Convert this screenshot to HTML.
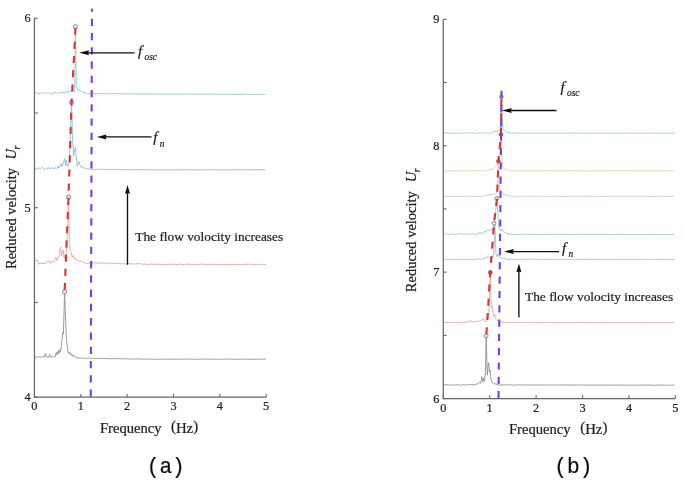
<!DOCTYPE html><html><head><meta charset="utf-8"><style>html,body{margin:0;padding:0;background:#fff;overflow:hidden;}svg{display:block;filter:blur(0.3px);}text{font-family:"Liberation Serif",serif;stroke:#222;stroke-width:0.22px;}.m{font-family:"Liberation Mono",monospace;}</style></head><body>
<svg width="685" height="482" viewBox="0 0 685 482">
<rect width="685" height="482" fill="#fff"/>
<polyline points="35.0,92.6 36.6,92.7 38.0,93.8 39.0,93.9 40.4,93.3 41.7,92.8 43.5,93.3 44.5,92.2 45.8,92.6 46.8,93.6 48.2,92.7 49.4,92.7 50.4,93.6 51.9,93.8 53.6,92.7 55.2,92.3 56.5,93.4 57.8,92.2 59.4,93.1 60.5,93.1 61.8,92.2 63.3,92.2 64.7,92.7 66.0,92.2 67.0,91.0 68.0,92.6 69.0,91.4 70.0,92.0 71.0,91.0 72.2,92.0 73.2,90.8 74.2,91.5 74.9,80.0 75.5,26.6 76.2,80.0 76.8,86.5 77.6,88.5 78.4,91.0 79.3,90.3 80.2,90.4 81.2,92.0 82.5,91.8 84.0,92.8 86.0,93.0 86.8,93.7 87.8,93.7 89.4,93.7 90.9,93.4 92.0,93.7 93.6,93.4 95.1,93.7 96.1,93.8 97.3,93.9 98.7,93.6 99.7,93.7 101.1,93.5 102.3,93.9 103.9,93.5 105.5,93.9 107.3,93.9 108.9,93.8 110.3,93.6 112.0,93.9 113.7,93.6 115.4,93.9 116.6,93.6 117.7,93.9 119.5,93.6 121.0,93.9 122.6,93.7 123.7,94.0 125.2,94.0 126.8,93.9 128.4,94.0 129.6,93.7 130.7,93.7 131.9,93.7 133.2,93.9 134.5,93.8 135.6,93.9 137.2,93.8 138.8,94.0 140.4,94.0 142.2,94.0 143.5,94.1 144.5,93.9 145.9,94.1 147.6,93.8 149.2,94.1 150.7,94.0 152.1,94.1 153.6,93.9 154.7,94.1 156.2,94.0 157.6,94.0 158.6,94.1 160.1,94.2 161.9,94.0 163.2,94.1 164.7,93.9 165.9,94.2 166.9,94.1 168.0,94.1 169.1,94.1 170.2,94.2 171.5,94.0 173.2,94.2 174.6,94.0 175.6,94.2 176.7,94.2 178.0,94.2 179.5,94.0 180.8,94.0 181.8,94.0 183.4,94.0 184.7,94.1 186.2,94.1 187.5,94.1 189.1,94.0 190.4,94.0 191.7,94.1 192.8,94.0 194.6,94.2 196.1,94.0 197.5,94.2 199.1,94.1 200.5,94.3 202.3,94.1 203.5,94.2 204.8,94.0 206.3,94.2 207.5,94.2 208.9,94.2 210.6,94.1 211.7,94.3 213.2,94.1 214.7,94.1 216.4,94.2 217.8,94.3 219.6,94.1 220.9,94.4 222.4,94.3 223.4,94.4 224.5,94.2 225.8,94.4 227.4,94.1 228.6,94.4 230.3,94.2 231.8,94.4 233.6,94.3 234.9,94.4 236.5,94.3 238.2,94.4 240.0,94.3 241.6,94.4 243.2,94.3 244.9,94.2 246.2,94.2 247.6,94.2 248.7,94.4 250.3,94.5 251.7,94.3 252.9,94.4 254.0,94.3 255.6,94.4 257.1,94.2 258.2,94.3 259.6,94.3 261.1,94.5 262.5,94.3 264.2,94.5 265.6,94.3" fill="none" stroke="#92c8bc" stroke-width="0.9" stroke-linejoin="round"/>
<polyline points="35.0,169.1 36.0,169.1 37.6,168.7 39.1,167.6 40.2,168.9 41.8,167.2 43.3,168.8 44.3,169.0 45.5,169.5 46.9,167.8 47.9,168.7 49.3,167.5 50.5,169.2 52.1,167.5 53.7,169.2 56.0,167.5 57.0,168.5 58.0,166.0 59.0,167.8 60.0,165.5 61.0,163.5 62.0,166.5 63.0,164.5 64.0,161.0 64.8,158.8 65.6,165.5 66.4,160.0 67.2,166.0 68.2,166.5 69.2,162.0 70.2,140.0 71.5,102.5 72.6,140.0 73.6,156.3 74.6,150.0 75.5,147.5 76.4,158.0 77.3,166.0 78.2,163.0 79.0,161.5 80.0,165.0 81.2,167.5 82.4,166.6 84.0,168.0 86.0,168.4 86.8,168.9 88.1,168.9 89.1,168.9 90.3,169.5 91.7,169.4 93.2,169.4 94.9,169.5 96.5,169.5 97.9,169.3 99.7,169.1 101.4,169.6 102.7,169.2 104.4,169.4 105.5,169.6 106.9,169.5 108.3,169.3 109.8,169.6 111.3,169.3 113.1,169.5 114.8,169.3 116.3,169.6 118.0,169.4 119.0,169.7 120.1,169.5 121.2,169.7 122.9,169.7 123.9,169.7 125.6,169.5 127.4,169.7 128.9,169.7 130.2,169.7 131.3,169.6 133.0,169.8 134.4,169.6 135.9,169.9 137.7,169.7 139.2,169.7 141.0,169.7 142.0,169.9 143.0,169.7 144.1,169.9 145.6,169.7 147.2,169.8 148.8,169.8 150.1,170.0 151.4,169.8 152.9,170.0 154.5,170.0 156.1,170.0 157.8,169.9 159.1,169.9 160.4,169.8 161.7,169.9 163.0,169.7 164.3,169.8 165.8,170.0 167.4,169.8 169.1,169.8 170.4,169.8 172.0,169.8 173.4,170.0 175.1,169.9 176.9,170.0 178.2,169.7 179.4,170.0 180.9,169.8 182.2,169.8 183.7,169.7 184.7,170.0 186.4,169.7 187.9,169.7 189.0,169.8 190.5,170.0 191.9,169.8 193.6,170.0 194.9,170.0 196.6,169.7 198.3,169.7 199.3,170.0 200.4,169.8 201.8,169.9 203.4,169.9 204.5,169.8 206.3,169.8 207.7,169.9 209.0,169.7 210.3,169.8 211.3,169.7 212.6,169.8 213.9,169.7 215.2,169.9 216.6,169.8 218.1,170.0 219.5,169.9 221.1,169.8 222.4,169.7 223.7,170.0 224.9,169.8 226.6,170.0 228.2,169.7 229.7,169.7 230.7,170.0 231.7,169.8 233.4,169.9 235.1,169.7 236.6,169.7 238.1,169.9 239.7,169.7 240.8,170.0 241.8,169.7 243.5,169.8 244.7,169.7 246.0,169.9 247.3,169.8 248.7,169.9 250.3,169.9 251.9,169.9 253.3,169.7 254.4,169.7 256.1,169.7 257.7,169.7 258.9,169.7 260.0,169.9 261.3,169.7 263.0,169.9 264.1,169.9 265.4,169.7" fill="none" stroke="#8fb8dc" stroke-width="0.9" stroke-linejoin="round"/>
<polyline points="35.0,260.3 36.4,260.2 37.5,259.9 38.8,264.3 40.2,263.2 41.9,263.4 43.7,263.5 45.4,263.5 46.9,262.3 48.8,260.5 50.6,263.4 52.0,260.9 53.9,262.2 55.0,259.5 56.0,257.5 57.0,260.5 58.0,258.5 59.2,255.0 60.0,250.0 60.7,247.0 61.5,256.0 62.3,252.5 63.2,249.8 64.2,258.5 65.3,254.0 66.5,253.0 67.6,230.0 68.5,197.2 69.4,238.0 70.2,250.6 71.2,252.5 72.2,257.0 73.0,255.5 74.0,257.0 75.0,259.5 76.0,258.5 77.5,260.5 79.0,261.0 81.0,260.8 83.0,262.2 83.8,262.5 85.2,263.0 86.6,263.4 88.4,263.3 89.7,262.7 90.9,262.4 92.7,263.2 94.0,262.5 95.8,263.2 97.4,262.7 98.6,263.3 100.5,262.8 101.8,263.6 103.7,262.9 105.1,263.6 106.3,262.9 107.4,263.0 108.7,263.1 110.1,263.6 111.5,263.8 112.8,263.8 114.1,263.1 115.3,263.4 117.0,263.4 118.3,263.3 119.4,263.2 121.3,264.1 122.4,263.3 124.1,264.1 125.8,263.6 127.0,263.9 128.4,263.6 129.4,263.7 131.2,263.7 132.3,264.1 133.6,264.0 134.8,264.1 135.9,263.8 137.8,263.8 139.5,263.7 141.0,263.9 142.1,264.0 144.0,264.4 145.0,264.0 146.3,263.9 147.5,264.6 149.0,264.5 150.9,264.0 152.6,264.4 153.8,264.0 155.7,264.6 157.5,264.0 159.0,264.6 160.3,264.0 161.4,264.6 163.1,264.6 164.2,264.6 165.3,264.6 166.9,264.6 168.1,264.6 169.2,264.4 171.0,264.0 172.5,264.5 174.2,264.0 175.9,264.5 177.0,264.6 178.5,264.6 179.7,264.1 181.2,264.1 183.0,264.6 184.4,264.5 185.6,264.1 186.8,264.1 188.6,264.2 190.4,264.4 192.3,264.5 194.1,264.6 195.3,264.3 196.5,264.5 198.0,264.1 199.1,264.6 200.6,264.2 201.7,264.1 203.0,264.1 204.7,264.6 206.0,264.2 207.9,264.7 209.6,264.2 210.8,264.6 212.4,264.5 213.6,264.5 215.5,264.2 216.8,264.5 218.3,264.3 219.9,264.6 221.0,264.7 222.8,264.7 224.7,264.6 226.2,264.7 227.9,264.3 229.5,264.7 231.1,264.3 233.0,264.6 234.9,264.3 236.1,264.7 238.1,264.3 239.5,264.6 240.9,264.6 242.5,264.7 243.8,264.3 245.0,264.2 247.0,264.3 248.3,264.3 249.6,264.2 251.3,264.4 252.6,264.4 254.4,264.7 256.3,264.3 257.5,264.4 258.8,264.6 260.8,264.8 262.4,264.3 264.4,264.7 265.9,264.3" fill="none" stroke="#e6a2a2" stroke-width="0.9" stroke-linejoin="round"/>
<polyline points="35.0,356.9 35.9,357.1 36.9,357.3 38.0,357.2 38.9,356.9 39.7,356.7 40.9,357.1 41.8,356.7 43.0,357.1 44.5,357.0 45.3,353.5 46.2,357.0 48.5,357.3 49.6,354.5 50.6,357.2 53.0,357.0 54.2,356.0 55.3,356.4 56.3,352.5 57.2,355.0 58.2,350.5 59.0,353.5 59.8,349.5 60.6,351.5 61.4,346.0 62.2,338.0 62.9,332.5 63.4,334.0 63.9,316.0 64.6,291.8 65.2,310.0 65.8,326.0 66.5,340.0 67.4,348.0 68.4,353.5 69.4,352.0 70.4,355.0 71.4,353.8 72.4,356.5 73.5,355.0 75.0,357.0 77.0,357.6 77.8,358.3 79.0,358.0 80.2,358.1 81.5,358.0 82.3,358.3 83.3,358.2 84.1,358.5 85.3,358.5 86.1,358.3 86.8,358.2 87.6,358.5 88.5,358.2 89.6,358.1 90.7,358.2 91.6,358.4 92.4,358.5 93.4,358.3 94.3,358.2 95.3,358.5 96.4,358.6 97.1,358.6 97.9,358.4 98.9,358.4 99.7,358.4 100.9,358.7 101.8,358.4 102.9,358.4 104.1,358.5 105.4,358.5 106.4,358.5 107.7,358.7 108.6,358.7 109.4,358.8 110.2,358.8 111.2,358.7 112.3,358.6 113.2,358.5 113.9,358.5 114.7,358.9 115.8,358.7 116.7,358.6 117.6,358.6 118.8,358.8 119.8,358.7 120.7,358.8 121.6,358.6 122.7,358.9 123.5,358.7 124.7,359.0 125.8,358.7 127.0,359.0 127.9,358.8 129.0,359.0 130.1,358.9 131.1,359.0 132.1,358.8 133.3,359.1 134.4,358.9 135.6,359.1 136.9,358.9 137.9,358.9 139.2,358.9 140.3,359.1 141.5,359.0 142.4,359.2 143.5,359.1 144.3,359.2 145.1,359.0 145.9,359.2 146.6,359.2 147.4,359.1 148.4,359.1 149.4,359.1 150.1,359.1 151.1,359.1 152.0,359.3 152.8,359.3 153.8,359.1 154.8,359.3 155.7,359.3 156.7,359.3 157.8,359.1 158.5,359.1 159.6,359.3 160.8,359.3 161.6,359.1 162.6,359.3 163.6,359.1 164.6,359.3 165.9,359.1 166.9,359.1 167.9,359.1 169.0,359.1 169.9,359.1 170.8,359.2 172.1,359.1 173.0,359.3 174.2,359.3 175.1,359.3 175.9,359.1 176.9,359.3 177.6,359.1 178.8,359.3 179.5,359.1 180.6,359.3 181.6,359.1 182.5,359.3 183.4,359.2 184.6,359.3 185.5,359.1 186.2,359.3 187.2,359.2 188.3,359.2 189.1,359.1 190.2,359.1 191.5,359.1 192.2,359.3 193.3,359.1 194.1,359.3 194.9,359.1 195.7,359.2 196.5,359.2 197.2,359.3 198.4,359.3 199.3,359.3 200.6,359.2 201.7,359.1 202.7,359.1 203.8,359.3 204.6,359.1 205.4,359.1 206.6,359.3 207.6,359.1 208.4,359.3 209.2,359.3 210.1,359.2 211.3,359.2 212.5,359.1 213.3,359.3 214.5,359.3 215.4,359.1 216.5,359.1 217.3,359.3 218.4,359.1 219.5,359.3 220.6,359.2 221.3,359.2 222.6,359.1 223.3,359.3 224.3,359.1 225.1,359.2 226.0,359.1 226.8,359.3 227.6,359.1 228.6,359.1 229.5,359.1 230.6,359.3 231.4,359.1 232.5,359.2 233.3,359.3 234.1,359.3 235.0,359.1 235.8,359.3 236.6,359.3 237.9,359.3 239.2,359.2 240.4,359.2 241.4,359.1 242.3,359.2 243.5,359.1 244.3,359.2 245.2,359.3 246.2,359.2 246.9,359.1 247.9,359.3 248.6,359.2 249.7,359.3 250.9,359.2 251.9,359.3 252.8,359.1 254.1,359.3 255.3,359.2 256.2,359.1 257.3,359.2 258.1,359.2 259.1,359.1 259.8,359.2 260.6,359.1 261.4,359.3 262.5,359.1 263.6,359.3 264.6,359.1 265.9,359.3" fill="none" stroke="#909090" stroke-width="0.9" stroke-linejoin="round"/>
<polyline points="443.8,133.3 445.0,132.9 446.2,133.0 447.5,132.9 448.3,133.2 449.3,133.1 450.1,133.3 451.3,133.3 452.1,133.2 452.8,133.0 453.6,133.3 454.5,132.9 455.6,132.9 456.7,132.9 457.6,133.2 458.4,133.2 459.4,132.9 460.3,132.9 461.3,133.3 462.4,133.4 463.1,133.4 463.9,133.0 464.9,133.0 465.7,133.0 466.9,133.4 467.8,132.9 468.9,132.8 470.1,133.0 471.4,132.9 472.4,132.9 473.7,133.3 474.6,133.2 475.4,133.5 476.2,133.5 477.2,133.3 478.3,132.8 479.2,132.7 479.9,132.7 480.7,133.6 481.8,133.0 482.7,132.6 483.6,132.5 484.8,133.5 485.8,132.8 486.7,133.3 487.6,132.6 488.7,133.4 489.5,132.7 490.7,133.5 492.0,132.5 494.0,131.6 495.5,131.0 497.0,131.8 498.5,130.5 500.0,131.0 500.8,122.0 501.4,97.2 502.2,118.0 503.0,128.0 504.0,130.2 505.2,131.0 506.5,132.4 508.0,132.0 510.0,133.0 510.8,133.4 511.8,133.1 512.9,133.3 513.8,133.0 515.0,133.3 516.0,133.0 517.0,133.2 518.2,132.9 519.1,132.9 520.3,133.1 521.1,133.2 522.4,133.1 523.5,133.3 524.7,133.0 525.9,133.3 526.6,133.0 527.5,133.2 528.7,133.1 529.8,133.2 530.8,133.2 532.0,133.2 533.2,133.2 534.4,133.2 535.3,133.1 536.6,133.0 537.8,133.0 538.6,133.3 539.7,133.0 540.9,133.3 541.9,133.0 542.7,133.2 543.7,133.1 544.4,133.0 545.3,133.0 546.5,133.2 547.8,133.1 548.8,133.2 549.7,133.0 550.6,133.3 551.8,133.0 552.7,133.2 553.9,133.1 554.6,133.2 555.3,133.1 556.4,133.3 557.7,133.2 558.9,133.2 560.1,133.1 561.1,133.1 561.9,133.0 562.7,133.2 563.4,133.1 564.7,133.3 565.4,133.1 566.5,133.3 567.7,133.0 568.9,133.0 570.2,133.0 571.1,133.3 571.9,133.0 572.7,133.2 574.0,133.0 574.9,133.2 575.7,133.0 576.7,133.1 577.6,133.3 578.8,133.3 579.7,133.3 580.4,133.2 581.4,133.2 582.4,133.1 583.2,133.1 584.3,133.2 585.1,133.0 586.1,133.1 586.9,133.0 588.0,133.1 588.9,133.1 590.2,133.3 591.3,133.0 592.2,133.3 593.0,133.1 593.8,133.0 594.5,133.1 595.5,133.1 596.6,133.3 597.9,133.3 599.0,133.1 600.1,133.1 601.4,133.3 602.6,133.3 603.6,133.1 604.5,133.3 605.6,133.3 606.5,133.3 607.8,133.1 609.0,133.1 609.7,133.1 610.9,133.0 612.2,133.0 612.9,133.1 613.7,133.3 614.4,133.2 615.2,133.1 616.5,133.3 617.5,133.1 618.4,133.0 619.2,133.0 620.3,133.3 621.3,133.3 622.3,133.3 623.4,133.1 624.6,133.2 625.8,133.0 626.7,133.2 627.7,133.1 628.4,133.2 629.4,133.0 630.2,133.2 631.4,133.1 632.7,133.3 633.7,133.0 634.9,133.3 636.0,133.1 636.8,133.1 637.9,133.3 638.7,133.3 639.4,133.1 640.2,133.2 641.3,133.1 642.1,133.3 643.3,133.1 644.4,133.3 645.4,133.0 646.5,133.3 647.2,133.2 648.5,133.2 649.3,133.1 650.4,133.1 651.3,133.1 652.4,133.3 653.1,133.1 653.9,133.2 655.2,133.1 656.2,133.1 657.3,133.0 658.5,133.3 659.6,133.1 660.8,133.3 661.9,133.3 663.0,133.2 664.2,133.1 665.0,133.2 665.9,133.1 666.6,133.3 667.8,133.3 668.9,133.1 669.8,133.2 671.1,133.1 672.1,133.1 672.8,133.3 673.9,133.1 675.0,133.3" fill="none" stroke="#8ccfd4" stroke-width="0.9" stroke-linejoin="round"/>
<polyline points="443.8,171.0 444.8,170.8 445.9,171.0 446.8,170.7 448.0,170.9 449.0,170.7 450.0,170.9 451.2,170.6 452.1,170.6 453.3,170.7 454.1,170.9 455.4,170.7 456.5,171.0 457.7,170.6 458.9,171.1 459.6,170.6 460.5,170.9 461.7,170.7 462.8,170.9 463.8,170.9 465.0,170.9 466.2,171.0 467.4,170.9 468.3,170.7 469.6,170.6 470.8,170.4 471.6,171.1 472.7,170.6 473.9,171.1 474.9,170.6 475.7,171.0 476.7,170.6 477.4,170.5 478.3,170.5 479.5,171.1 480.8,170.6 481.8,171.0 482.7,170.3 483.6,171.4 484.8,170.4 485.7,171.1 487.0,170.2 489.0,170.0 491.0,169.6 493.0,169.0 494.5,168.0 496.0,166.0 497.5,163.5 499.0,162.5 500.2,155.0 501.0,134.8 501.7,152.0 502.5,166.0 503.5,168.5 505.0,169.2 507.0,170.2 509.0,170.0 511.0,170.8 511.8,170.9 512.9,171.0 513.8,170.6 514.5,170.7 515.3,171.0 516.1,171.0 517.3,170.9 518.6,171.0 519.5,170.7 520.4,170.7 521.4,170.9 522.5,170.9 523.3,170.9 524.2,170.7 525.0,171.0 525.9,170.7 527.1,170.9 528.4,170.9 529.6,170.7 530.3,170.6 531.3,170.9 532.4,170.7 533.4,171.0 534.4,170.8 535.5,171.0 536.7,170.7 537.8,170.7 538.6,170.8 539.8,170.7 540.7,170.8 541.7,171.0 542.9,170.7 543.8,171.0 545.1,170.9 545.9,170.7 547.0,170.8 547.9,170.9 549.2,170.7 550.3,170.8 551.5,170.7 552.7,170.9 553.5,170.8 554.2,170.7 555.1,170.8 555.9,170.7 556.6,170.7 557.4,170.9 558.3,170.9 559.6,170.9 560.4,170.9 561.2,170.9 561.9,170.7 562.7,170.8 563.7,170.7 564.9,170.9 565.7,170.7 566.8,170.9 568.0,170.7 569.2,170.9 570.0,170.7 570.8,170.7 571.6,170.6 572.6,171.0 573.9,170.7 574.7,170.7 575.8,170.7 576.8,170.9 577.5,170.7 578.7,170.9 579.5,170.7 580.7,170.9 581.6,170.7 582.4,170.8 583.6,170.8 584.8,170.9 585.8,170.8 586.5,170.9 587.5,170.7 588.7,170.9 589.5,170.7 590.6,170.9 591.4,170.7 592.4,170.9 593.3,170.7 594.3,170.8 595.3,170.8 596.5,170.7 597.6,170.7 598.6,170.9 599.4,170.7 600.2,170.9 601.3,170.7 602.2,170.9 603.3,170.7 604.3,170.9 605.4,170.7 606.3,170.9 607.5,170.8 608.4,170.7 609.2,170.7 610.4,170.7 611.5,170.9 612.8,170.7 613.7,170.7 614.9,170.7 615.9,170.7 616.8,170.8 617.9,170.8 618.8,170.9 619.5,170.7 620.8,170.7 621.5,170.7 622.3,170.9 623.5,170.8 624.7,170.9 625.5,170.9 626.4,170.7 627.5,170.8 628.7,170.7 629.7,170.7 630.9,170.8 632.0,170.8 632.8,170.7 633.6,170.7 634.5,170.9 635.4,170.9 636.1,170.9 637.0,170.7 637.7,170.9 638.7,170.7 639.7,170.9 640.6,170.7 641.7,170.9 642.4,170.8 643.6,170.8 644.3,170.7 645.4,170.9 646.3,170.8 647.3,170.9 648.6,170.7 649.8,170.9 650.5,170.7 651.5,170.7 652.2,170.8 653.2,170.8 654.1,170.9 655.1,170.9 656.2,170.7 657.1,170.8 658.2,170.8 659.4,170.9 660.6,170.8 661.6,170.9 662.8,170.7 664.0,170.9 664.9,170.8 665.8,170.7 666.8,170.7 667.9,170.8 669.1,170.7 670.1,170.8 671.3,170.8 672.1,170.9 673.3,170.7 674.2,170.9" fill="none" stroke="#dad6a2" stroke-width="0.9" stroke-linejoin="round"/>
<polyline points="443.8,196.5 444.9,196.5 445.8,196.3 446.5,196.3 447.3,196.6 448.1,196.6 449.3,196.5 450.6,196.6 451.5,196.3 452.4,196.3 453.4,196.5 454.5,196.5 455.3,196.5 456.2,196.3 457.0,196.6 457.9,196.2 459.1,196.5 460.4,196.5 461.6,196.2 462.3,196.2 463.3,196.5 464.4,196.2 465.4,196.7 466.4,196.3 467.5,196.7 468.7,196.2 469.8,196.2 470.6,196.5 471.8,196.2 472.7,196.3 473.7,196.8 474.9,196.2 475.8,196.8 477.1,196.5 477.9,196.1 479.0,196.3 479.9,196.7 481.2,196.1 482.3,196.5 483.5,195.9 485.0,195.8 487.0,195.2 489.0,194.8 491.0,195.0 493.0,194.0 495.0,194.5 496.5,193.0 497.5,188.0 498.4,161.2 499.3,186.0 500.3,191.0 501.5,191.5 503.0,193.0 505.0,195.0 507.0,195.5 510.0,196.0 510.8,196.1 511.6,196.3 512.4,196.5 513.5,196.2 514.5,196.2 515.3,196.4 516.1,196.6 517.0,196.5 518.3,196.2 519.3,196.3 520.4,196.5 521.6,196.3 522.4,196.5 523.2,196.2 524.3,196.5 525.2,196.3 526.4,196.2 527.5,196.2 528.5,196.3 529.5,196.3 530.8,196.5 531.6,196.4 532.5,196.5 533.4,196.2 534.2,196.4 535.3,196.3 536.5,196.4 537.7,196.3 538.6,196.3 539.6,196.2 540.5,196.3 541.2,196.3 542.4,196.5 543.7,196.4 544.5,196.5 545.6,196.2 546.3,196.4 547.6,196.5 548.7,196.5 549.5,196.3 550.3,196.5 551.3,196.4 552.3,196.4 553.3,196.2 554.2,196.4 555.1,196.4 555.8,196.5 556.9,196.4 557.9,196.2 559.0,196.2 559.8,196.2 561.0,196.3 562.1,196.5 563.3,196.3 564.2,196.5 565.1,196.2 566.1,196.5 567.3,196.2 568.1,196.5 569.3,196.3 570.4,196.5 571.7,196.2 572.7,196.4 573.7,196.2 574.6,196.2 575.4,196.3 576.6,196.4 577.8,196.3 579.0,196.4 580.3,196.2 581.2,196.4 582.4,196.2 583.5,196.5 584.7,196.2 585.9,196.2 587.0,196.4 588.2,196.5 589.0,196.2 590.1,196.4 591.3,196.2 592.2,196.5 593.4,196.3 594.3,196.4 595.3,196.5 596.2,196.3 597.1,196.2 597.9,196.3 598.7,196.3 599.4,196.5 600.6,196.3 601.8,196.4 602.9,196.2 604.1,196.3 605.1,196.5 605.8,196.4 606.9,196.2 607.9,196.5 609.0,196.2 610.0,196.4 610.8,196.2 611.6,196.4 612.9,196.2 613.8,196.2 614.9,196.2 615.7,196.4 616.6,196.3 617.7,196.4 618.9,196.4 619.9,196.2 620.9,196.2 621.6,196.4 622.7,196.2 623.6,196.4 624.6,196.4 625.5,196.4 626.7,196.2 627.4,196.2 628.7,196.3 629.5,196.4 630.5,196.2 631.7,196.4 632.8,196.2 633.6,196.4 634.7,196.2 635.6,196.4 636.5,196.2 637.5,196.4 638.6,196.4 639.8,196.2 641.0,196.4 641.8,196.4 642.6,196.4 643.4,196.5 644.6,196.2 645.7,196.2 646.6,196.2 647.8,196.2 648.6,196.2 649.9,196.5 651.1,196.3 651.9,196.5 653.0,196.2 654.1,196.4 654.9,196.3 655.9,196.4 656.8,196.2 657.8,196.4 658.7,196.2 659.5,196.4 660.7,196.2 661.8,196.4 662.6,196.2 663.8,196.4 665.0,196.2 666.1,196.4 667.3,196.3 668.1,196.2 669.2,196.4 670.2,196.4 671.5,196.4 672.6,196.4 673.5,196.3 674.4,196.4" fill="none" stroke="#cdbede" stroke-width="0.9" stroke-linejoin="round"/>
<polyline points="443.8,233.9 444.6,234.1 445.4,234.3 446.5,234.0 447.5,233.9 448.3,234.3 449.1,234.6 450.0,234.4 451.3,233.9 452.3,234.0 453.4,234.6 454.6,234.1 455.4,234.5 456.2,233.9 457.3,234.5 458.2,234.0 459.4,233.8 460.5,233.7 461.5,234.0 462.5,234.1 463.8,234.8 464.6,234.4 465.5,234.6 466.4,233.5 467.2,234.5 468.3,233.9 469.5,234.4 470.7,233.9 471.6,233.8 472.6,233.7 473.5,234.0 474.2,233.9 475.4,234.8 476.7,234.4 477.5,234.7 478.0,233.0 480.0,232.8 482.0,233.5 484.0,232.0 486.0,231.5 488.0,230.0 489.5,231.0 491.0,229.0 492.5,229.5 493.8,226.0 494.6,222.0 495.8,210.0 497.0,198.8 497.8,212.0 498.6,226.0 499.6,230.0 501.0,231.0 502.0,229.0 503.2,231.5 505.0,232.5 507.0,233.5 510.0,234.0 513.0,234.3 513.8,234.4 514.6,234.2 515.6,234.4 516.6,234.2 517.5,234.4 518.7,234.4 519.4,234.5 520.5,234.2 521.6,234.2 522.8,234.2 523.5,234.4 524.4,234.2 525.6,234.4 526.5,234.3 527.5,234.4 528.5,234.4 529.8,234.3 530.5,234.3 531.3,234.5 532.2,234.2 533.0,234.4 534.1,234.3 535.1,234.4 536.0,234.1 536.7,234.5 537.6,234.3 538.5,234.4 539.7,234.4 540.9,234.4 541.8,234.2 542.5,234.4 543.5,234.4 544.4,234.2 545.1,234.3 546.3,234.4 547.4,234.5 548.4,234.2 549.3,234.2 550.2,234.4 551.5,234.3 552.7,234.2 554.0,234.3 554.8,234.3 555.8,234.3 556.6,234.4 557.4,234.2 558.1,234.5 559.3,234.2 560.1,234.5 561.3,234.3 562.0,234.4 563.1,234.5 563.9,234.3 564.9,234.3 565.7,234.5 566.7,234.3 568.0,234.5 569.0,234.2 569.8,234.5 570.7,234.2 571.4,234.5 572.4,234.3 573.5,234.5 574.3,234.2 575.4,234.4 576.5,234.3 577.4,234.3 578.5,234.4 579.4,234.5 580.1,234.3 581.3,234.2 582.3,234.2 583.5,234.3 584.4,234.3 585.2,234.3 586.5,234.3 587.6,234.5 588.5,234.3 589.4,234.4 590.3,234.4 591.1,234.4 592.0,234.3 592.8,234.3 593.7,234.2 594.8,234.5 596.1,234.3 596.8,234.5 597.9,234.3 599.1,234.5 599.9,234.3 601.0,234.5 601.9,234.4 603.0,234.3 604.1,234.5 605.0,234.5 606.1,234.3 606.9,234.5 607.6,234.3 608.9,234.5 609.9,234.5 610.7,234.5 611.5,234.4 612.2,234.4 613.4,234.3 614.4,234.5 615.2,234.3 616.0,234.5 616.8,234.3 617.9,234.3 618.6,234.3 619.7,234.5 620.6,234.5 621.7,234.4 622.8,234.3 623.8,234.5 624.6,234.3 625.4,234.4 626.4,234.4 627.3,234.5 628.5,234.3 629.6,234.5 630.8,234.4 631.9,234.5 633.1,234.4 634.0,234.6 635.3,234.5 636.6,234.6 637.8,234.5 639.1,234.5 640.3,234.4 641.1,234.4 642.3,234.3 643.0,234.4 644.1,234.6 645.1,234.6 646.3,234.4 647.2,234.5 648.1,234.4 649.3,234.5 650.5,234.4 651.6,234.5 652.3,234.5 653.3,234.6 654.2,234.6 654.9,234.5 655.7,234.3 656.7,234.5 657.9,234.4 659.1,234.4 659.8,234.4 660.7,234.6 661.4,234.4 662.7,234.4 663.7,234.4 664.8,234.6 665.8,234.5 667.1,234.6 668.0,234.4 669.1,234.4 670.3,234.4 671.2,234.5 672.4,234.4 673.2,234.6 674.3,234.5" fill="none" stroke="#96c9b9" stroke-width="0.9" stroke-linejoin="round"/>
<polyline points="443.8,259.4 444.6,259.3 445.6,259.4 446.6,259.2 447.5,259.4 448.7,259.4 449.4,259.5 450.5,259.2 451.6,259.2 452.8,259.2 453.5,259.4 454.4,259.2 455.6,259.4 456.5,259.2 457.5,259.4 458.5,259.5 459.8,259.2 460.5,259.2 461.3,259.6 462.2,259.1 463.0,259.4 464.1,259.2 465.1,259.4 466.0,258.9 466.7,259.7 467.6,259.2 468.5,259.6 469.7,259.5 470.9,259.6 471.8,259.0 472.5,259.5 473.5,259.6 474.4,259.0 475.1,259.2 476.3,259.6 477.4,259.7 478.4,258.8 479.3,258.8 480.2,259.5 481.5,259.2 482.7,258.8 484.0,258.5 486.0,258.0 488.0,256.5 489.5,258.0 491.0,257.0 492.5,257.5 493.8,254.5 494.4,238.0 494.8,223.6 495.3,238.0 496.0,254.0 497.0,256.5 498.0,254.5 499.0,256.5 500.5,257.5 502.0,258.5 504.0,258.2 506.0,259.0 506.8,259.5 507.8,259.6 509.0,259.4 510.1,259.2 511.3,259.4 512.5,259.2 513.4,259.5 514.5,259.3 515.7,259.6 516.8,259.4 517.5,259.4 518.5,259.2 519.5,259.4 520.5,259.3 521.4,259.4 522.4,259.2 523.4,259.4 524.4,259.2 525.2,259.4 526.0,259.1 527.0,259.4 527.8,259.3 528.6,259.4 529.7,259.2 530.7,259.4 531.4,259.3 532.3,259.2 533.3,259.2 534.4,259.2 535.7,259.2 536.4,259.4 537.3,259.2 538.4,259.4 539.3,259.2 540.0,259.2 540.8,259.4 541.8,259.4 542.7,259.2 543.7,259.5 544.8,259.2 546.1,259.3 547.1,259.2 548.2,259.4 549.4,259.3 550.6,259.5 551.3,259.2 552.6,259.4 553.7,259.5 554.9,259.3 555.7,259.4 556.4,259.5 557.4,259.2 558.4,259.5 559.5,259.3 560.5,259.4 561.6,259.2 562.7,259.3 563.5,259.4 564.4,259.5 565.3,259.3 566.3,259.4 567.2,259.3 568.2,259.4 569.3,259.2 570.2,259.5 571.5,259.3 572.7,259.4 573.6,259.2 574.7,259.4 575.5,259.5 576.8,259.2 578.0,259.5 579.0,259.5 579.7,259.5 580.8,259.5 581.9,259.3 582.6,259.4 583.7,259.3 584.7,259.3 585.8,259.2 586.5,259.5 587.4,259.3 588.3,259.2 589.5,259.2 590.8,259.2 592.0,259.3 592.9,259.3 593.7,259.3 594.8,259.5 596.0,259.3 596.7,259.3 598.0,259.4 599.1,259.4 600.3,259.5 601.3,259.4 602.1,259.2 603.1,259.5 603.9,259.3 604.8,259.5 605.8,259.5 606.5,259.3 607.4,259.3 608.6,259.5 609.7,259.3 610.4,259.3 611.5,259.5 612.5,259.5 613.4,259.2 614.2,259.5 614.9,259.3 616.1,259.5 617.3,259.3 618.5,259.3 619.4,259.3 620.3,259.5 621.2,259.3 621.9,259.3 623.1,259.3 624.0,259.3 625.1,259.2 626.1,259.3 627.1,259.3 628.2,259.5 629.1,259.4 629.9,259.4 630.7,259.3 631.4,259.3 632.6,259.3 633.7,259.5 634.7,259.3 635.8,259.5 636.6,259.3 637.5,259.5 638.6,259.5 639.9,259.3 640.6,259.3 641.8,259.5 642.7,259.3 643.7,259.5 644.6,259.5 645.7,259.5 646.7,259.5 647.6,259.4 648.6,259.2 649.6,259.5 650.7,259.3 651.5,259.5 652.5,259.3 653.7,259.4 654.5,259.3 655.4,259.5 656.3,259.3 657.6,259.3 658.5,259.3 659.6,259.5 660.9,259.3 662.0,259.5 662.8,259.3 664.0,259.4 664.8,259.5 665.7,259.5 666.5,259.3 667.2,259.5 668.3,259.4 669.5,259.5 670.2,259.3 671.0,259.5 671.7,259.4 672.4,259.5 673.5,259.4 674.7,259.5" fill="none" stroke="#9bc0de" stroke-width="0.9" stroke-linejoin="round"/>
<polyline points="443.8,322.5 444.8,322.6 446.0,322.5 447.1,322.3 448.3,322.5 449.5,322.3 450.4,322.6 451.5,322.3 452.7,322.7 453.8,322.5 454.5,322.6 455.5,322.3 456.5,322.5 457.5,322.3 458.4,322.5 459.4,322.1 460.4,322.5 461.4,322.1 462.2,322.5 463.0,322.0 464.0,322.6 464.8,322.3 465.6,322.6 466.7,322.0 468.0,322.0 469.5,321.5 470.6,320.3 471.8,322.0 474.0,321.8 477.0,321.5 480.0,321.0 482.0,320.0 483.3,318.3 484.5,321.0 486.0,321.5 487.5,320.0 488.8,316.0 489.6,295.0 490.3,272.6 490.9,295.0 491.4,308.0 492.2,306.5 493.0,310.0 493.8,316.5 494.6,314.5 495.5,318.5 496.5,319.0 497.5,320.8 499.0,321.2 500.5,322.4 502.0,321.8 504.0,322.6 504.8,322.6 506.1,322.3 507.1,322.3 508.2,322.4 509.1,322.3 510.2,322.7 511.5,322.6 512.3,322.6 513.0,322.4 513.7,322.3 514.9,322.6 515.9,322.3 516.8,322.7 518.0,322.4 518.8,322.5 520.0,322.3 520.9,322.6 521.6,322.6 522.6,322.6 523.3,322.3 524.2,322.4 525.5,322.4 526.3,322.4 527.5,322.6 528.5,322.3 529.3,322.4 530.2,322.4 531.5,322.4 532.7,322.4 533.9,322.4 535.2,322.4 536.4,322.4 537.1,322.4 538.0,322.4 539.0,322.6 540.0,322.4 540.8,322.6 541.6,322.6 542.9,322.3 544.1,322.4 544.9,322.3 545.7,322.4 546.9,322.6 547.7,322.4 548.6,322.6 549.6,322.3 550.5,322.4 551.4,322.5 552.4,322.5 553.3,322.3 554.4,322.6 555.2,322.5 556.4,322.7 557.1,322.4 558.2,322.7 559.0,322.4 560.2,322.6 561.4,322.4 562.5,322.6 563.5,322.4 564.5,322.6 565.6,322.5 566.6,322.6 567.8,322.4 568.8,322.6 569.6,322.5 570.6,322.6 571.8,322.4 573.0,322.5 573.9,322.5 574.7,322.6 575.7,322.4 576.8,322.4 577.9,322.4 578.9,322.6 579.7,322.4 580.9,322.7 581.7,322.6 582.6,322.4 583.7,322.5 584.9,322.6 585.6,322.7 586.3,322.6 587.2,322.5 588.0,322.6 589.2,322.6 589.9,322.6 591.0,322.4 592.3,322.6 593.3,322.6 594.3,322.6 595.1,322.4 596.1,322.7 597.1,322.4 597.8,322.7 598.6,322.4 599.8,322.6 601.1,322.4 602.1,322.6 603.2,322.4 604.3,322.4 605.6,322.4 606.8,322.7 608.0,322.5 609.0,322.7 610.0,322.7 610.7,322.6 611.6,322.5 612.4,322.7 613.6,322.4 614.6,322.6 615.4,322.5 616.6,322.6 617.8,322.5 618.7,322.7 619.5,322.4 620.5,322.6 621.5,322.5 622.3,322.6 623.2,322.5 624.2,322.6 625.2,322.4 626.5,322.6 627.3,322.4 628.5,322.6 629.3,322.4 630.1,322.6 630.9,322.7 631.8,322.7 632.6,322.5 633.6,322.6 634.6,322.5 635.5,322.6 636.4,322.5 637.4,322.7 638.6,322.7 639.8,322.6 640.7,322.5 642.0,322.6 642.8,322.5 643.6,322.7 644.7,322.7 645.8,322.5 647.0,322.4 647.7,322.7 648.7,322.5 649.5,322.5 650.5,322.5 651.3,322.5 652.5,322.4 653.2,322.4 654.2,322.5 655.2,322.7 656.3,322.7 657.5,322.5 658.6,322.5 659.4,322.6 660.7,322.5 661.9,322.7 662.9,322.4 664.1,322.7 665.3,322.5 666.2,322.7 667.3,322.5 668.3,322.6 669.2,322.6 670.1,322.7 670.9,322.5 671.8,322.7 672.8,322.4 673.9,322.7" fill="none" stroke="#e6a6a6" stroke-width="0.9" stroke-linejoin="round"/>
<polyline points="443.8,385.1 445.1,384.7 446.1,384.7 447.2,384.8 448.1,384.7 449.2,385.2 450.5,385.1 451.3,385.1 452.0,384.8 452.7,384.7 453.9,385.2 454.9,384.7 455.8,385.3 457.0,384.7 457.8,385.0 459.0,384.6 459.9,385.3 460.6,385.3 461.6,385.2 462.3,384.5 463.2,384.7 464.5,384.8 465.3,384.8 466.5,385.3 467.5,384.5 468.3,384.8 469.2,384.7 470.5,384.7 471.7,384.6 472.9,384.8 474.2,384.7 475.4,384.7 476.0,384.2 478.0,383.8 479.5,382.0 480.8,383.2 481.8,376.5 482.8,381.5 483.6,378.0 484.5,382.0 485.3,372.0 485.8,355.0 486.2,335.8 486.7,355.0 487.3,375.0 488.0,366.0 488.7,362.8 489.4,372.0 490.0,370.0 490.8,378.0 491.8,382.0 493.0,383.0 494.5,383.8 496.0,384.0 498.0,384.7 498.8,385.2 499.9,385.0 500.8,385.2 501.9,384.8 503.0,384.8 503.8,384.9 505.0,384.8 505.9,384.8 506.6,384.8 507.6,385.2 508.9,384.9 509.7,384.8 510.5,385.0 511.3,384.9 512.2,385.1 513.2,385.1 514.5,385.1 515.4,384.8 516.5,384.9 517.4,384.8 518.4,384.8 519.3,384.9 520.3,385.2 521.1,384.9 522.2,384.9 523.1,385.0 524.1,384.9 525.1,384.9 526.3,384.8 527.2,385.1 528.5,384.9 529.7,384.9 530.4,384.9 531.7,384.9 532.4,385.2 533.6,385.0 534.6,385.1 535.4,384.9 536.2,385.2 537.1,384.9 538.2,385.1 539.1,384.9 540.2,384.9 541.2,385.1 542.4,385.1 543.7,384.9 544.6,385.2 545.8,385.0 546.7,385.1 547.5,384.9 548.6,385.2 549.7,385.0 550.4,385.1 551.7,384.9 552.7,384.9 553.9,385.0 554.8,385.2 555.6,385.1 556.7,385.2 558.0,385.0 559.0,385.1 560.1,385.0 561.0,385.1 561.9,385.0 562.8,384.9 563.8,385.0 564.8,385.2 565.7,384.9 566.9,385.0 568.0,384.9 569.1,385.2 570.2,384.9 571.1,385.1 572.0,385.1 573.0,385.1 574.2,384.9 575.3,385.2 576.5,385.0 577.6,385.2 578.8,385.0 579.6,385.2 580.6,384.9 581.4,385.0 582.6,385.0 583.8,385.2 584.8,385.0 585.5,385.2 586.4,385.1 587.3,385.0 588.1,385.0 588.9,385.0 590.1,385.0 591.2,385.2 592.2,385.0 593.2,385.2 594.3,385.0 595.3,385.2 596.6,385.0 597.7,385.2 598.6,385.0 599.8,385.1 600.5,385.1 601.3,385.0 602.0,385.0 603.3,385.2 604.6,385.2 605.8,385.2 607.0,385.0 607.9,385.1 608.9,385.0 610.1,385.2 611.0,385.0 612.1,385.1 613.1,385.0 614.2,385.2 615.4,385.0 616.3,385.2 617.2,385.2 618.2,385.0 619.5,385.1 620.5,385.0 621.5,385.2 622.6,385.2 623.5,385.0 624.4,385.2 625.2,385.1 626.1,385.2 627.3,385.1 628.4,385.2 629.5,385.3 630.3,385.3 631.6,385.1 632.5,385.3 633.4,385.3 634.5,385.2 635.7,385.0 636.7,385.2 637.8,385.1 638.8,385.2 639.9,385.0 640.8,385.2 642.1,385.1 643.3,385.2 644.5,385.1 645.4,385.2 646.1,385.2 646.9,385.0 647.9,385.1 649.1,385.1 650.3,385.0 651.3,385.2 652.6,385.1 653.8,385.3 655.0,385.3 655.8,385.3 656.9,385.1 657.9,385.3 658.7,385.1 659.7,385.3 660.7,385.0 661.6,385.2 662.8,385.1 664.1,385.1 665.3,385.1 666.5,385.3 667.6,385.1 668.3,385.2 669.6,385.3 670.4,385.3 671.2,385.1 672.5,385.1 673.6,385.1 674.7,385.3" fill="none" stroke="#8e8e8e" stroke-width="0.9" stroke-linejoin="round"/>
<path d="M34.45,18.2 V397.2 H266.2" fill="none" stroke="#666" stroke-width="1.25"/>
<path d="M34.45,397.20 h3.4" stroke="#666" stroke-width="1.1"/>
<path d="M34.45,302.45 h3.4" stroke="#666" stroke-width="1.1"/>
<path d="M34.45,207.70 h3.4" stroke="#666" stroke-width="1.1"/>
<path d="M34.45,112.95 h3.4" stroke="#666" stroke-width="1.1"/>
<path d="M34.45,18.20 h3.4" stroke="#666" stroke-width="1.1"/>
<path d="M34.45,397.2 v-3.3" stroke="#666" stroke-width="1.1"/>
<path d="M80.80,397.2 v-3.3" stroke="#666" stroke-width="1.1"/>
<path d="M127.15,397.2 v-3.3" stroke="#666" stroke-width="1.1"/>
<path d="M173.50,397.2 v-3.3" stroke="#666" stroke-width="1.1"/>
<path d="M219.85,397.2 v-3.3" stroke="#666" stroke-width="1.1"/>
<path d="M266.20,397.2 v-3.3" stroke="#666" stroke-width="1.1"/>
<path d="M443.25,19.3 V398.6 H675.4" fill="none" stroke="#666" stroke-width="1.25"/>
<path d="M443.25,398.60 h3.4" stroke="#666" stroke-width="1.1"/>
<path d="M443.25,335.38 h3.4" stroke="#666" stroke-width="1.1"/>
<path d="M443.25,272.17 h3.4" stroke="#666" stroke-width="1.1"/>
<path d="M443.25,208.95 h3.4" stroke="#666" stroke-width="1.1"/>
<path d="M443.25,145.73 h3.4" stroke="#666" stroke-width="1.1"/>
<path d="M443.25,82.52 h3.4" stroke="#666" stroke-width="1.1"/>
<path d="M443.25,19.30 h3.4" stroke="#666" stroke-width="1.1"/>
<path d="M443.25,398.6 v-3.3" stroke="#666" stroke-width="1.1"/>
<path d="M489.68,398.6 v-3.3" stroke="#666" stroke-width="1.1"/>
<path d="M536.11,398.6 v-3.3" stroke="#666" stroke-width="1.1"/>
<path d="M582.54,398.6 v-3.3" stroke="#666" stroke-width="1.1"/>
<path d="M628.97,398.6 v-3.3" stroke="#666" stroke-width="1.1"/>
<path d="M675.40,398.6 v-3.3" stroke="#666" stroke-width="1.1"/>
<text x="30.6" y="22.1" font-size="12.3" text-anchor="end" fill="#1e1e1e">6</text>
<text x="30.6" y="211.6" font-size="12.3" text-anchor="end" fill="#1e1e1e">5</text>
<text x="30.6" y="401.1" font-size="12.3" text-anchor="end" fill="#1e1e1e">4</text>
<text x="34.45" y="410.2" font-size="12.3" text-anchor="middle" fill="#1e1e1e">0</text>
<text x="80.80" y="410.2" font-size="12.3" text-anchor="middle" fill="#1e1e1e">1</text>
<text x="127.15" y="410.2" font-size="12.3" text-anchor="middle" fill="#1e1e1e">2</text>
<text x="173.50" y="410.2" font-size="12.3" text-anchor="middle" fill="#1e1e1e">3</text>
<text x="219.85" y="410.2" font-size="12.3" text-anchor="middle" fill="#1e1e1e">4</text>
<text x="266.20" y="410.2" font-size="12.3" text-anchor="middle" fill="#1e1e1e">5</text>
<text x="439.4" y="23.2" font-size="12.3" text-anchor="end" fill="#1e1e1e">9</text>
<text x="439.4" y="149.6" font-size="12.3" text-anchor="end" fill="#1e1e1e">8</text>
<text x="439.4" y="276.1" font-size="12.3" text-anchor="end" fill="#1e1e1e">7</text>
<text x="439.4" y="402.5" font-size="12.3" text-anchor="end" fill="#1e1e1e">6</text>
<text x="443.25" y="411.7" font-size="12.3" text-anchor="middle" fill="#1e1e1e">0</text>
<text x="489.68" y="411.7" font-size="12.3" text-anchor="middle" fill="#1e1e1e">1</text>
<text x="536.11" y="411.7" font-size="12.3" text-anchor="middle" fill="#1e1e1e">2</text>
<text x="582.54" y="411.7" font-size="12.3" text-anchor="middle" fill="#1e1e1e">3</text>
<text x="628.97" y="411.7" font-size="12.3" text-anchor="middle" fill="#1e1e1e">4</text>
<text x="675.40" y="411.7" font-size="12.3" text-anchor="middle" fill="#1e1e1e">5</text>
<circle cx="75.5" cy="26.6" r="2.1" fill="#eeeeee" stroke="#8a8a8a" stroke-width="0.9"/>
<circle cx="71.5" cy="102.2" r="2.1" fill="#e0e0e0" stroke="#8a8a8a" stroke-width="0.9"/>
<circle cx="68.5" cy="197.2" r="2.1" fill="#e6e6e6" stroke="#808080" stroke-width="0.9"/>
<circle cx="64.6" cy="291.8" r="2.1" fill="#eeeeee" stroke="#808080" stroke-width="0.9"/>
<circle cx="501.4" cy="97.0" r="1.9" fill="#d0c8e4" stroke="#8a80b0" stroke-width="0.9"/>
<circle cx="501.0" cy="134.6" r="1.8" fill="#d84444" stroke="#b04848" stroke-width="0.9"/>
<circle cx="498.4" cy="161.2" r="1.8" fill="#d84848" stroke="#b05050" stroke-width="0.9"/>
<circle cx="497.0" cy="198.5" r="1.9" fill="#e6e6e6" stroke="#808080" stroke-width="0.9"/>
<circle cx="494.0" cy="223.3" r="1.9" fill="#eeeeee" stroke="#808080" stroke-width="0.9"/>
<circle cx="490.3" cy="272.5" r="1.8" fill="#d44040" stroke="#904848" stroke-width="0.9"/>
<circle cx="486.2" cy="335.8" r="1.9" fill="#eeeeee" stroke="#808080" stroke-width="0.9"/>
<path d="M91.95,8.7 L90.75,397" stroke="#7a3ed8" stroke-width="2.1" stroke-dasharray="7.3 6.96" stroke-dashoffset="4.3" fill="none"/>
<path d="M501.5,90.7 L498.5,398.2" stroke="#7a3ed8" stroke-width="2.1" stroke-dasharray="7.2 7.1" fill="none"/>
<polyline points="75.5,27.6 71.6,102 68.5,197 64.6,291.6" stroke="#d83434" stroke-width="2.1" stroke-dasharray="7.1 7.1" fill="none"/>
<polyline points="501.4,99 501.0,134.5 498.4,161 497.0,198.4 494.0,223.3 490.3,272.4 486.3,336" stroke="#d83434" stroke-width="2.1" stroke-dasharray="7.1 7.2" fill="none"/>
<path d="M134.6,52.8 H86.2" stroke="#0e0e0e" stroke-width="1.35"/>
<path d="M79.2,52.8 L89.0,50.3 L88.2,52.8 L89.0,55.3 Z" fill="#0e0e0e"/>
<path d="M151.6,136.9 H103.7" stroke="#0e0e0e" stroke-width="1.35"/>
<path d="M96.7,136.9 L106.5,134.4 L105.7,136.9 L106.5,139.4 Z" fill="#0e0e0e"/>
<path d="M127.5,264.7 V191.9" stroke="#0e0e0e" stroke-width="1.35"/>
<path d="M127.5,184.9 L125.0,193.70000000000002 L127.5,193.1 L130.0,193.70000000000002 Z" fill="#0e0e0e"/>
<path d="M556.4,110.5 H508.9" stroke="#0e0e0e" stroke-width="1.35"/>
<path d="M501.9,110.5 L511.7,108.0 L510.9,110.5 L511.7,113.0 Z" fill="#0e0e0e"/>
<path d="M559.0,251.6 H511.0" stroke="#0e0e0e" stroke-width="1.35"/>
<path d="M504.0,251.6 L513.8,249.1 L513.0,251.6 L513.8,254.1 Z" fill="#0e0e0e"/>
<path d="M518.9,317.2 V270.4" stroke="#0e0e0e" stroke-width="1.35"/>
<path d="M518.9,263.4 L516.4,272.2 L518.9,271.59999999999997 L521.4,272.2 Z" fill="#0e0e0e"/>
<text x="138.0" y="55.6" font-size="15.0" font-style="italic" fill="#1a1a1a">f</text>
<text x="144.6" y="60.0" font-size="9.3" font-style="italic" fill="#1a1a1a">osc</text>
<text x="153.2" y="142.1" font-size="15.0" font-style="italic" fill="#1a1a1a">f</text>
<text x="159.79999999999998" y="146.5" font-size="9.3" font-style="italic" fill="#1a1a1a">n</text>
<text x="560.5" y="92.4" font-size="15.0" font-style="italic" fill="#1a1a1a">f</text>
<text x="567.1" y="95.80000000000001" font-size="9.3" font-style="italic" fill="#1a1a1a">osc</text>
<text x="562.0" y="252.8" font-size="15.0" font-style="italic" fill="#1a1a1a">f</text>
<text x="568.6" y="257.2" font-size="9.3" font-style="italic" fill="#1a1a1a">n</text>
<text x="135.3" y="240.7" font-size="13.35" fill="#1e1e1e">The flow volocity increases</text>
<text x="525.0" y="301.0" font-size="13.38" fill="#1e1e1e">The flow volocity increases</text>
<text x="100.0" y="432.7" font-size="14.6" fill="#1e1e1e">Frequency</text>
<text x="171.0" y="432.7" font-size="14.8" fill="#1e1e1e"><tspan dy="-2">(</tspan><tspan dy="2">Hz</tspan><tspan dy="-2">)</tspan></text>
<text x="509.0" y="434.2" font-size="14.6" fill="#1e1e1e">Frequency</text>
<text x="580.2" y="434.2" font-size="14.8" fill="#1e1e1e"><tspan dy="-2">(</tspan><tspan dy="2">Hz</tspan><tspan dy="-2">)</tspan></text>
<text transform="translate(16.2,269.0) rotate(-90)" font-size="14.5" fill="#1e1e1e">Reduced velocity</text>
<text transform="translate(16.2,159.4) rotate(-90)" font-size="14.5" font-style="italic" fill="#1e1e1e">U</text>
<text transform="translate(20.099999999999998,149.4) rotate(-90)" font-size="9.6" font-style="italic" fill="#1e1e1e">r</text>
<text transform="translate(415.9,292.2) rotate(-90)" font-size="14.5" fill="#1e1e1e">Reduced velocity</text>
<text transform="translate(415.9,182.3) rotate(-90)" font-size="14.5" font-style="italic" fill="#1e1e1e">U</text>
<text transform="translate(419.79999999999995,172.3) rotate(-90)" font-size="9.6" font-style="italic" fill="#1e1e1e">r</text>
<text class="m" x="146.7" y="473.0" font-size="21.2" fill="#0a0a0a">(a)</text>
<text class="m" x="554.3" y="473.1" font-size="21.2" fill="#0a0a0a">(b)</text>
</svg></body></html>
